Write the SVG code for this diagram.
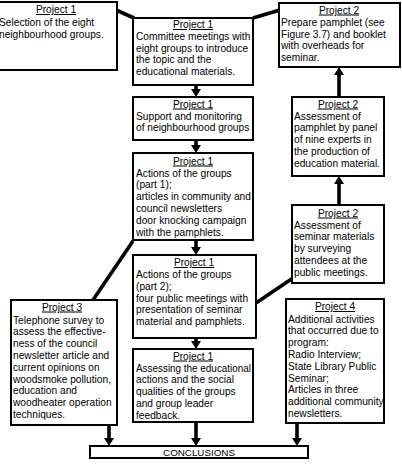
<svg xmlns="http://www.w3.org/2000/svg" width="402" height="464" viewBox="0 0 402 464">
<style>
.box{fill:#fff;stroke:#000;stroke-width:2}
text{font-family:"Liberation Sans",Arial,sans-serif;font-size:10.2px;fill:#000}
.t{text-anchor:middle;text-decoration:underline}
.c{text-anchor:middle;font-size:9.8px}
.con{stroke:#000;stroke-width:3.6;fill:none}
</style>
<defs>
<marker id="ah" viewBox="0 0 8 10" markerWidth="8" markerHeight="10" refX="1" refY="5" orient="auto" markerUnits="userSpaceOnUse" preserveAspectRatio="none">
<path d="M0,0 L8,5 L0,10 z" fill="#000"/>
</marker>
</defs>
<rect width="402" height="464" fill="#fff"/>
<g id="connectors">
<line class="con" x1="116" y1="10" x2="134" y2="18"/>
<line class="con" x1="253" y1="18" x2="280" y2="10"/>
<line class="con" x1="133" y1="241" x2="93" y2="300"/>
<line class="con" x1="293" y1="278" x2="256" y2="303"/>
<line class="con" x1="196" y1="85" x2="196" y2="90" marker-end="url(#ah)"/>
<line class="con" x1="196" y1="140" x2="196" y2="146" marker-end="url(#ah)"/>
<line class="con" x1="196" y1="240" x2="196" y2="248" marker-end="url(#ah)"/>
<line class="con" x1="196" y1="338" x2="196" y2="342" marker-end="url(#ah)"/>
<line class="con" x1="196" y1="422" x2="196" y2="439" marker-end="url(#ah)"/>
<line class="con" x1="339" y1="97" x2="339" y2="74" marker-end="url(#ah)"/>
<line class="con" x1="339" y1="205" x2="339" y2="183" marker-end="url(#ah)"/>
<line class="con" x1="109" y1="425" x2="109" y2="439" marker-end="url(#ah)"/>
<line class="con" x1="297" y1="423" x2="297" y2="439" marker-end="url(#ah)"/>
</g>
<g id="n1">
<rect class="box" x="-4" y="2" width="121" height="68"/>
<text class="t" x="56" y="13">Project 1</text>
<text x="-1" y="26">Selection of the eight</text>
<text x="-1" y="37.5">neighbourhood groups.</text>
</g>
<g id="n2">
<rect class="box" x="133" y="18" width="120" height="67"/>
<text class="t" x="193" y="28">Project 1</text>
<text x="136" y="40">Committee meetings with</text>
<text x="136" y="51.7">eight groups to introduce</text>
<text x="136" y="63.4">the topic and the</text>
<text x="136" y="75.1">educational materials.</text>
</g>
<g id="n3">
<rect class="box" x="279" y="3" width="121" height="64"/>
<text class="t" x="339" y="13.5">Project 2</text>
<text x="281" y="26">Prepare pamphlet (see</text>
<text x="281" y="37.7">Figure 3.7) and booklet</text>
<text x="281" y="49.4">with overheads for</text>
<text x="281" y="61.1">seminar.</text>
</g>
<g id="n4">
<rect class="box" x="133" y="97" width="120" height="43"/>
<text class="t" x="193" y="107.5">Project 1</text>
<text x="136" y="119.5">Support and monitoring</text>
<text x="136" y="131.2">of neighbourhood groups</text>
</g>
<g id="n5">
<rect class="box" x="133" y="153" width="120" height="87"/>
<text class="t" x="193" y="164.5">Project 1</text>
<text x="136" y="176.5">Actions of the groups</text>
<text x="136" y="188.3">(part 1);</text>
<text x="136" y="200.1">articles in community and</text>
<text x="136" y="211.9">council newsletters</text>
<text x="136" y="223.7">door knocking campaign</text>
<text x="136" y="235.5">with the pamphlets.</text>
</g>
<g id="n6">
<rect class="box" x="133" y="255" width="123" height="83"/>
<text class="t" x="194" y="266">Project 1</text>
<text x="136" y="278">Actions of the groups</text>
<text x="136" y="289.8">(part 2);</text>
<text x="136" y="301.6">four public meetings with</text>
<text x="136" y="313.4">presentation of seminar</text>
<text x="136" y="325.2">material and pamphlets.</text>
</g>
<g id="n7">
<rect class="box" x="133" y="349" width="120" height="73"/>
<text class="t" x="193" y="359.5">Project 1</text>
<text x="136" y="371.5" textLength="115" lengthAdjust="spacingAndGlyphs">Assessing the educational</text>
<text x="136" y="383.3">actions and the social</text>
<text x="136" y="395.1">qualities of the groups</text>
<text x="136" y="406.9">and group leader</text>
<text x="136" y="418.7">feedback.</text>
</g>
<g id="n8">
<rect class="box" x="292" y="97" width="92" height="79"/>
<text class="t" x="338" y="107.5">Project 2</text>
<text x="294" y="119.5">Assessment of</text>
<text x="294" y="131.3">pamphlet by panel</text>
<text x="294" y="143.1">of nine experts in</text>
<text x="294" y="154.9">the production of</text>
<text x="294" y="166.7">education material.</text>
</g>
<g id="n9">
<rect class="box" x="292" y="205" width="92" height="78"/>
<text class="t" x="338" y="216.5">Project 2</text>
<text x="294" y="228.5">Assessment of</text>
<text x="294" y="240.3">seminar materials</text>
<text x="294" y="252.1">by surveying</text>
<text x="294" y="263.9">attendees at the</text>
<text x="294" y="275.7">public meetings.</text>
</g>
<g id="n10">
<rect class="box" x="11" y="300" width="106" height="125"/>
<text class="t" x="62" y="310.5">Project 3</text>
<text x="13" y="323.5">Telephone survey to</text>
<text x="13" y="335.3">assess the effective-</text>
<text x="13" y="347.1">ness of the council</text>
<text x="13" y="358.9">newsletter article and</text>
<text x="13" y="370.7">current opinions on</text>
<text x="13" y="382.5">woodsmoke pollution,</text>
<text x="13" y="394.3">education and</text>
<text x="13" y="406.1">woodheater operation</text>
<text x="13" y="417.9">techniques.</text>
</g>
<g id="n11">
<rect class="box" x="286" y="299" width="98" height="124"/>
<text class="t" x="335" y="310">Project 4</text>
<text x="288" y="322.5">Additional activities</text>
<text x="288" y="334.3">that occurred due to</text>
<text x="288" y="346.1">program:</text>
<text x="288" y="357.9">Radio Interview;</text>
<text x="288" y="369.7">State Library Public</text>
<text x="288" y="381.5">Seminar;</text>
<text x="288" y="393.3">Articles in three</text>
<text x="288" y="405.1">additional community</text>
<text x="288" y="416.9">newsletters.</text>
</g>
<g id="n12">
<rect class="box" x="90" y="446" width="218" height="12"/>
<text class="c" x="199" y="456">CONCLUSIONS</text>
</g>
</svg>
